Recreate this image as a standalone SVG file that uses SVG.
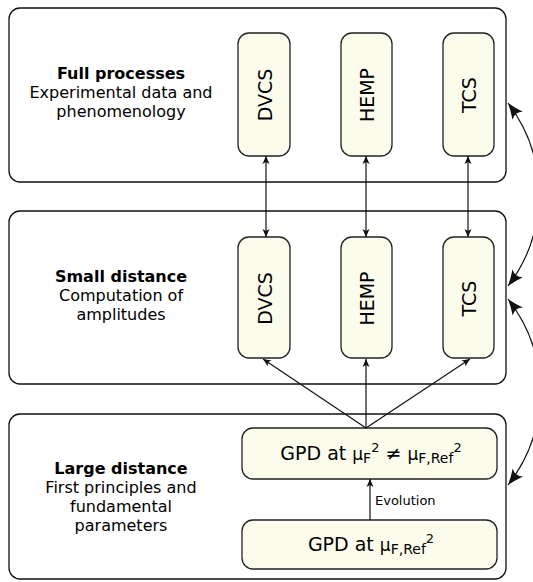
<svg xmlns="http://www.w3.org/2000/svg" width="533" height="582" viewBox="0 0 533 582">
<style>
text{font-family:"DejaVu Sans","Liberation Sans",sans-serif;fill:#000}
.layer{fill:#fff;stroke:#111;stroke-width:1.3}
.node{fill:#fcfcec;stroke:#222;stroke-width:1.3}
.t{font-size:16px;text-anchor:middle}
.b{font-weight:bold}
.v{font-size:19px;text-anchor:middle}
.g{font-size:19px;text-anchor:middle}
.edge{fill:none;stroke:#111;stroke-width:1.2}
</style>
<defs>
<marker id="ah" viewBox="-9 -4 10 8" markerWidth="10" markerHeight="8" refX="0" refY="0" orient="auto-start-reverse" markerUnits="userSpaceOnUse">
<path d="M0,0 L-8,-3.5 L-6,0 L-8,3.5 z" fill="#111"/>
</marker>
<marker id="big" viewBox="-17 -7 18 14" markerWidth="18" markerHeight="14" refX="0" refY="0" orient="auto-start-reverse" markerUnits="userSpaceOnUse">
<path d="M0,0 Q-8,-2.5 -16,-6.5 Q-11,0 -16,6.5 Q-8,2.5 0,0 z" fill="#111"/>
</marker>
</defs>

<g id="layer-full">
<rect class="layer" x="9" y="8" width="497" height="174" rx="11"/>
<text class="t b" x="121" y="79">Full processes</text>
<text class="t" x="121" y="98">Experimental data and</text>
<text class="t" x="121" y="117">phenomenology</text>
</g>
<g id="layer-small">
<rect class="layer" x="9" y="211" width="497" height="173" rx="11"/>
<text class="t b" x="121" y="282">Small distance</text>
<text class="t" x="121" y="301">Computation of</text>
<text class="t" x="121" y="320">amplitudes</text>
</g>
<g id="layer-large">
<rect class="layer" x="9" y="414" width="497" height="165" rx="11"/>
<text class="t b" x="121" y="474">Large distance</text>
<text class="t" x="121" y="493">First principles and</text>
<text class="t" x="121" y="512">fundamental</text>
<text class="t" x="121" y="531">parameters</text>
</g>

<g id="full-dvcs">
<rect class="node" x="238" y="33" width="52" height="123" rx="11"/>
<text class="v" transform="translate(271.5,95) rotate(-90)">DVCS</text>
</g>
<g id="full-hemp">
<rect class="node" x="341" y="33" width="51" height="123" rx="11"/>
<text class="v" transform="translate(374,95) rotate(-90)">HEMP</text>
</g>
<g id="full-tcs">
<rect class="node" x="443" y="33" width="51" height="123" rx="11"/>
<text class="v" transform="translate(476,95) rotate(-90)">TCS</text>
</g>

<g id="small-dvcs">
<rect class="node" x="238" y="237" width="52" height="121" rx="11"/>
<text class="v" transform="translate(271.5,298.5) rotate(-90)">DVCS</text>
</g>
<g id="small-hemp">
<rect class="node" x="341" y="237" width="51" height="121" rx="11"/>
<text class="v" transform="translate(374,298.5) rotate(-90)">HEMP</text>
</g>
<g id="small-tcs">
<rect class="node" x="443" y="237" width="51" height="121" rx="11"/>
<text class="v" transform="translate(476,298.5) rotate(-90)">TCS</text>
</g>

<g id="gpd-mu">
<rect class="node" x="242" y="428" width="255" height="51" rx="11"/>
<text class="g" x="371" y="460">GPD at <tspan font-size="17">μ</tspan><tspan font-size="14" dy="3">F</tspan><tspan font-size="13" dy="-11">2</tspan><tspan dy="8"> ≠ </tspan><tspan font-size="17">μ</tspan><tspan font-size="14" dy="3">F,Ref</tspan><tspan font-size="13" dy="-11">2</tspan></text>
</g>
<g id="gpd-ref">
<rect class="node" x="242" y="520" width="255" height="49" rx="11"/>
<text class="g" x="371" y="551">GPD at <tspan font-size="17">μ</tspan><tspan font-size="14" dy="3">F,Ref</tspan><tspan font-size="13" dy="-11">2</tspan></text>
</g>

<g id="connectors">
<line class="edge" x1="266" y1="156" x2="266" y2="237" marker-start="url(#ah)" marker-end="url(#ah)"/>
<line class="edge" x1="366" y1="156" x2="366" y2="237" marker-start="url(#ah)" marker-end="url(#ah)"/>
<line class="edge" x1="468" y1="156" x2="468" y2="237" marker-start="url(#ah)" marker-end="url(#ah)"/>
<line class="edge" x1="366" y1="428" x2="263" y2="359" marker-end="url(#ah)"/>
<line class="edge" x1="366" y1="428" x2="366" y2="359" marker-end="url(#ah)"/>
<line class="edge" x1="366" y1="428" x2="470" y2="359" marker-end="url(#ah)"/>
<line class="edge" x1="370" y1="520" x2="370" y2="479" marker-end="url(#ah)"/>
<text x="375" y="505" font-size="13">Evolution</text>
<path class="edge" d="M508,103 A151,151 0 0 1 508,286" marker-start="url(#big)" marker-end="url(#big)"/>
<path class="edge" d="M508,299 A151,151 0 0 1 508,485" marker-start="url(#big)" marker-end="url(#big)"/>
</g>
</svg>
